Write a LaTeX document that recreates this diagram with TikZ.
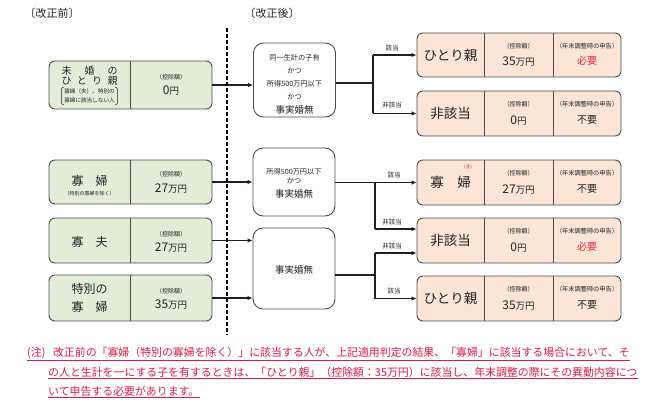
\documentclass[tikz,border=0pt]{standalone}
\usepackage{fontspec}
\setmainfont{Noto Sans CJK JP}
\usetikzlibrary{arrows.meta,calc}
\definecolor{lgreen}{RGB}{226,237,216}
\definecolor{lpeach}{RGB}{251,229,214}
\definecolor{bord}{RGB}{75,75,75}
\definecolor{txt}{RGB}{35,35,35}
\definecolor{redtxt}{RGB}{232,40,60}
\definecolor{fnred}{RGB}{214,28,72}
\newcommand{\fs}[1]{\fontsize{#1}{#1}\selectfont}
\newcommand{\yen}[2]{{\fs{12}#1}{\fs{9.5}#2}}
\tikzset{
  box/.style={draw=bord, line width=0.9pt, rounded corners=6pt, inner sep=0pt},
  lbox/.style={box, fill=lgreen, minimum width=163pt},
  rbox/.style={box, fill=lpeach, minimum width=204pt},
  mbox/.style={box, fill=white, rounded corners=10pt, minimum width=82pt},
  divl/.style={draw=bord, line width=0.9pt},
  conn/.style={line width=1.6pt, draw=black!88},
  arr/.style={conn, -{Latex[length=5pt,width=4.5pt]}},
  t/.style={inner sep=0pt, text=txt},
  ctl/.style={t, font=\fs{6}},
  lbl/.style={t, font=\fs{6.5}},
  msm/.style={t, font=\fs{7.2}},
  mbig/.style={t, font=\fs{9.5}},
  big/.style={t, font=\fs{12}},
  rbig/.style={t, font=\fs{13.5}},
  fn/.style={inner sep=0pt, text=fnred, font=\fs{10.9}, anchor=west},
  ul/.style={draw=fnred, line width=0.7pt},
  brk/.style={draw=txt, line width=0.6pt, rounded corners=1.2pt},
}
\begin{document}
\begin{tikzpicture}[x=1pt, y=-1pt]
\useasboundingbox (0,0) rectangle (660,414);
% headers
\node[t, font=\fs{11}] (h1) at (52,13) {〔改正前〕};
\node[t, font=\fs{11}] (h2) at (272,13) {〔改正後〕};
% divider / column x coordinates
\coordinate (d1) at (130,0);
\coordinate (d2) at (484,0);
\coordinate (d3) at (553,0);
\coordinate (cv) at (518.5,0);
\coordinate (cs) at (587,0);
% left boxes
\node[lbox, minimum height=48pt] (L1) at (130.5,85) {};
\node[lbox, minimum height=44pt] (L2) at (130.5,182) {};
\node[lbox, minimum height=45pt] (L3) at (130.5,240.5) {};
\node[lbox, minimum height=46pt] (L4) at (130.5,298) {};
\foreach \b in {L1,L2,L3,L4} \draw[divl] (\b.north -| d1) -- (\b.south -| d1);
% middle boxes
\node[mbox, minimum height=74pt] (M1) at (294.5,80) {};
\node[mbox, minimum height=68pt] (M2) at (294,182) {};
\node[mbox, minimum height=81pt] (M3) at (294,268.5) {};
% right boxes
\node[rbox, minimum height=44pt] (R1) at (519,55) {};
\node[rbox, minimum height=45pt] (R2) at (519,113.5) {};
\node[rbox, minimum height=45pt] (R3) at (519,182.5) {};
\node[rbox, minimum height=45pt] (R4) at (519,240.5) {};
\node[rbox, minimum height=45pt] (R5) at (519,298.5) {};
\foreach \b in {R1,R2,R3,R4,R5} {
  \draw[divl] (\b.north -| d2) -- (\b.south -| d2);
  \draw[divl] (\b.north -| d3) -- (\b.south -| d3);
}
% left texts
\node[t, font=\fs{10}] (a1) at (89.5,70.5) {\makebox[56pt][s]{未\hfill 婚\hfill の}};
\node[t, font=\fs{10}] (a2) at (89.5,81) {\makebox[56pt][s]{ひ\hfill と\hfill り\hfill 親}};
\node[t, font=\fontsize{5.6}{9}\selectfont, align=center, inner xsep=2.5pt, inner ysep=1.2pt] (a3) at (89.5,96) {寡婦（夫）、特別の\\寡婦に該当しない人};
\draw[brk] ([xshift=2pt]a3.north west) -- (a3.north west) -- (a3.south west) -- ([xshift=2pt]a3.south west);
\draw[brk] ([xshift=-2pt]a3.north east) -- (a3.north east) -- (a3.south east) -- ([xshift=-2pt]a3.south east);
\node[ctl] (a4) at (171,77) {（控除額）};
\node[t] (a5) at (171,91) {\yen{0}{円}};
\node[big] (b1) at (89.5,181) {寡\hspace{1em}婦};
\node[t, font=\fs{5}] (b2) at (89.5,193.5) {（特別の寡婦を除く）};
\node[ctl] (b3) at (171,174) {（控除額）};
\node[t] (b4) at (171,189) {\yen{27}{万円}};
\node[big] (c1) at (89.5,242) {寡\hspace{1em}夫};
\node[ctl] (c3) at (171,234) {（控除額）};
\node[t] (c4) at (171,248) {\yen{27}{万円}};
\node[big] (e1) at (89.5,289) {特別の};
\node[big] (e2) at (89.5,307) {寡\hspace{1em}婦};
\node[ctl] (e3) at (171,291) {（控除額）};
\node[t] (e4) at (171,305) {\yen{35}{万円}};
% middle texts
\node[msm] (m11) at (294.5,58) {同一生計の子有};
\node[msm] (m12) at (294.5,71) {かつ};
\node[msm] (m13) at (294.5,84) {所得500万円以下};
\node[msm] (m14) at (294.5,97) {かつ};
\node[mbig] (m15) at (294.5,110) {事実婚無};
\node[msm] (m21) at (294,171.5) {所得500万円以下};
\node[msm] (m22) at (294,181) {かつ};
\node[mbig] (m23) at (294,193.5) {事実婚無};
\node[mbig] (m31) at (294,270) {事実婚無};
% right texts
\node[rbig] (r11) at (450.5,55) {ひとり親};
\node[rbig] (r21) at (450.5,113.5) {非該当};
\node[rbig] (r31) at (450.5,182.5) {寡\hspace{1em}婦};
\node[t, font=\fs{4.5}, text=redtxt] (r3n) at (468,167) {(注)};
\node[rbig] (r41) at (450.5,240.5) {非該当};
\node[rbig] (r51) at (450.5,298.5) {ひとり親};
\foreach \b/\v/\s/\c in {R1/\yen{35}{万円}/必要/redtxt, R2/\yen{0}{円}/不要/txt, R3/\yen{27}{万円}/不要/txt, R4/\yen{0}{円}/必要/redtxt, R5/\yen{35}{万円}/不要/txt} {
  \node[ctl] (\b k) at ($(\b.center -| cv)+(0,-9)$) {（控除額）};
  \node[t] (\b v) at ($(\b.center -| cv)+(0,7)$) {\v};
  \node[t, font=\fs{6.2}] (\b n) at ($(\b.center -| cs)+(0,-9)$) {（年末調整時の申告）};
  \node[t, font=\fs{10}, text=\c] (\b s) at ($(\b.center -| cs)+(0,6)$) {\s};
}
% connectors left -> middle
\draw[arr] (L1.east) -- (M1.west |- L1.east);
\draw[arr] (L2.east) -- (M2.west |- L2.east);
\draw[arr] (L3.east) -- (M3.west |- L3.east);
\draw[arr] (L4.east) -- (M3.west |- L4.east);
% dashed separator
\coordinate (ds1) at (227,28);
\coordinate (ds2) at (227,335);
\draw[line width=1.4pt, dash pattern=on 4pt off 2pt] (ds1) -- (ds2);
% branch points
\coordinate (p1) at (373,83);
\coordinate (p2) at (375,182.5);
\coordinate (p2b) at (375,229);
\coordinate (p3) at (375,275);
\coordinate (p3a) at (375,253);
\coordinate (p3b) at (375,298.5);
% M1 branch
\draw[conn] (M1.east |- p1) -- (p1);
\draw[conn] (p1 |- R1) -- (p1 |- R2);
\draw[arr] (p1 |- R1) -- (R1.west);
\draw[arr] (p1 |- R2) -- (R2.west);
\node[lbl] (l11) at (392,48) {該当};
\node[lbl] (l12) at (392,105) {非該当};
% M2 branch
\draw[arr] (M2.east |- p2) -- (R3.west);
\draw[conn] (p2) -- (p2b);
\draw[arr] (p2b) -- (R4.west |- p2b);
\node[lbl] (l21) at (394,175.5) {該当};
\node[lbl] (l22) at (392,222) {非該当};
% M3 branch
\draw[conn] (M3.east |- p3) -- (p3);
\draw[conn] (p3a) -- (p3b);
\draw[arr] (p3a) -- (R4.west |- p3a);
\draw[arr] (p3b) -- (R5.west);
\node[lbl] (l31) at (392,246.5) {非該当};
\node[lbl] (l32) at (394,291.5) {該当};
% footnote
\node[fn] (f1) at (27,353) {(注)\hspace{0.7em}改正前の「寡婦（特別の寡婦を除く）」に該当する人が、上記適用判定の結果、「寡婦」に該当する場合において、そ};
\node[fn] (f2) at (48,372) {の人と生計を一にする子を有するときは、「ひとり親」（控除額：35万円）に該当し、年末調整の際にその異動内容につ};
\node[fn] (f3) at (48,391) {いて申告する必要があります。};
\foreach \f in {f1,f2,f3} \draw[ul] ([yshift=-1.2pt]\f.south west) -- ([yshift=-1.2pt]\f.south east);
\end{tikzpicture}
\end{document}
